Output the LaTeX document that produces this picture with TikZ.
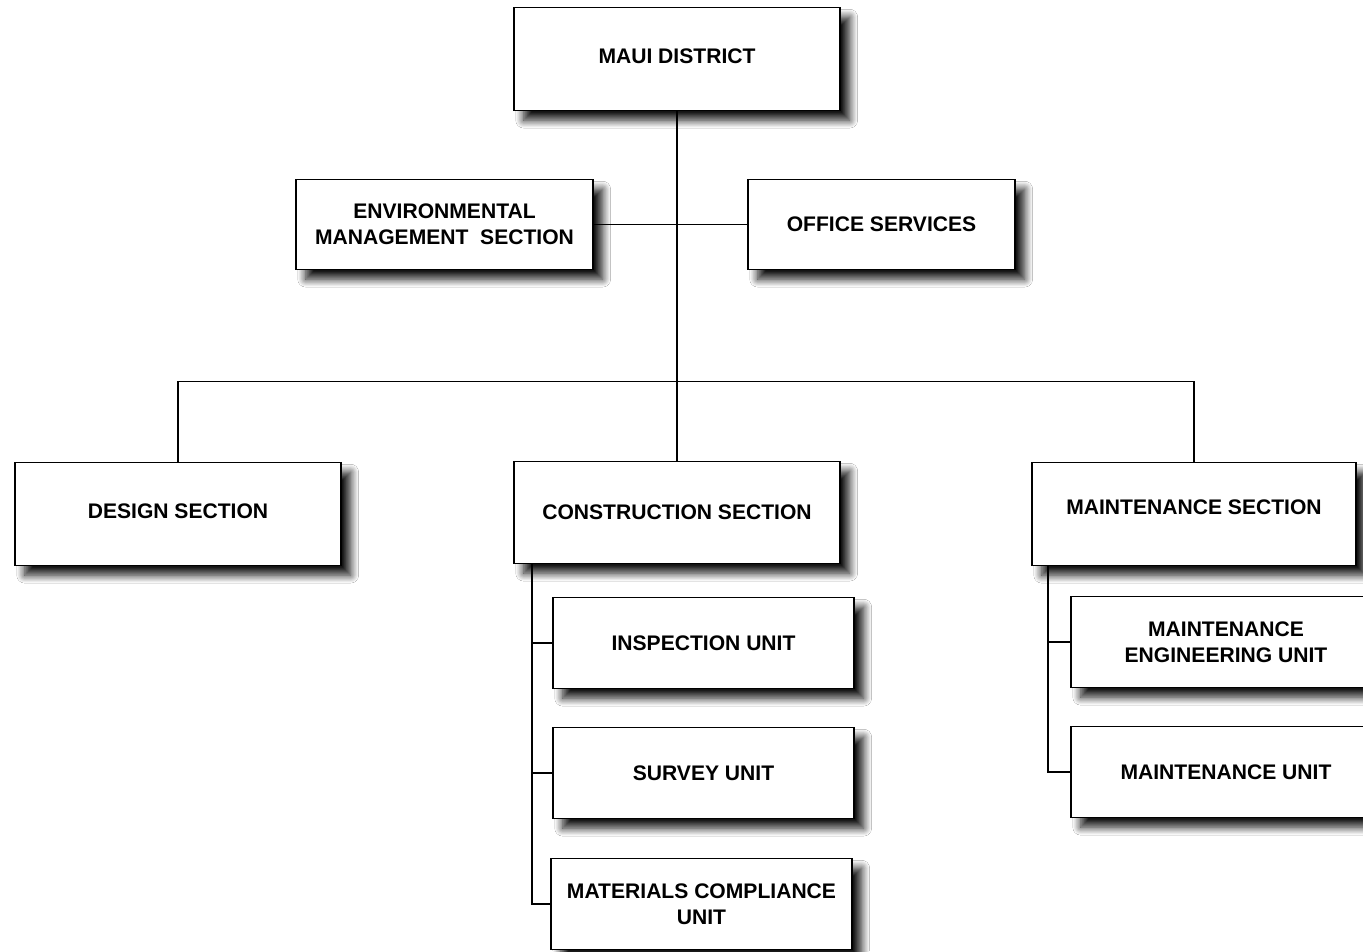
\documentclass[tikz,border=0pt]{standalone}
\usepackage{fontspec}
\setmainfont{Liberation Sans}
\usepackage{tikz}
\usetikzlibrary{positioning,calc,shadows.blur}
\tikzset{
  unitbox/.style={rectangle,draw=black,fill=white,line width=1.1pt,outer sep=0pt,
    align=center,inner sep=2pt,font=\bfseries\fontsize{12}{14.7}\selectfont,
    blur shadow={shadow xshift=5.5pt,shadow yshift=-5.5pt,shadow blur steps=12,
      shadow blur radius=4.5pt,shadow opacity=92}},
  secbox/.style={unitbox,minimum width=6.52cm,minimum height=2.06cm},
  smallbox/.style={unitbox,minimum width=6.02cm,minimum height=1.82cm},
  ln/.style={draw=black,line width=0.75pt},
}
\newcommand{\uptext}[2]{\raisebox{#1}[\height][\depth]{#2}}
\begin{document}
\begin{tikzpicture}
  \useasboundingbox[fill=white] (0,0) rectangle (27.26,-19.02);
  % top
  \node[secbox] (maui) at (13.54,-1.18) {\uptext{1.7pt}{MAUI DISTRICT}};
  \coordinate[below=22.8mm of maui.south] (j1);
  \coordinate[below=54.2mm of maui.south] (j2);
  \node[unitbox,minimum width=5.94cm,minimum height=1.8cm,left=16.8mm of j1] (env)
    {ENVIRONMENTAL\\MANAGEMENT\ \ SECTION};
  \node[unitbox,minimum width=5.34cm,minimum height=1.8cm,right=14.2mm of j1] (office)
    {OFFICE SERVICES};
  % sections
  \node[secbox,below=16.2mm of j2,xshift=-99.8mm] (design) {\uptext{1.5pt}{DESIGN SECTION}};
  \node[secbox,minimum height=2.04cm,below=16mm of j2] (constr) {CONSTRUCTION SECTION};
  \node[secbox,minimum width=6.48cm,below=16.2mm of j2,xshift=103.4mm] (maint)
    {\uptext{4pt}{MAINTENANCE SECTION}};
  % units
  \node[smallbox,below right=6.8mm and 7.8mm of constr.south west] (insp) {INSPECTION UNIT};
  \node[smallbox,below=7.8mm of insp] (survey) {SURVEY UNIT};
  \node[smallbox,below=8mm of survey,xshift=-0.4mm] (matl) {MATERIALS COMPLIANCE\\UNIT};
  \node[smallbox,minimum width=6.2cm,below right=6.2mm and 7.8mm of maint.south west] (mseng)
    {MAINTENANCE\\ENGINEERING UNIT};
  \node[smallbox,minimum width=6.2cm,below=7.8mm of mseng] (msunit) {MAINTENANCE UNIT};
  % connectors
  \draw[ln] (maui.south) -- (j2);
  \draw[ln] (env.east) -- (office.west);
  \draw[ln] (design.north) |- (j2) -| (maint.north);
  \draw[ln] (j2) -- (constr.north);
  \coordinate (cspine) at ($(constr.south west)+(3.6mm,0)$);
  \draw[ln] (cspine) |- (insp.west);
  \draw[ln] (cspine) |- (survey.west);
  \draw[ln] (cspine) |- (matl.west);
  \coordinate (mspine) at ($(maint.south west)+(3.2mm,0)$);
  \draw[ln] (mspine) |- (mseng.west);
  \draw[ln] (mspine) |- (msunit.west);
\end{tikzpicture}
\end{document}
